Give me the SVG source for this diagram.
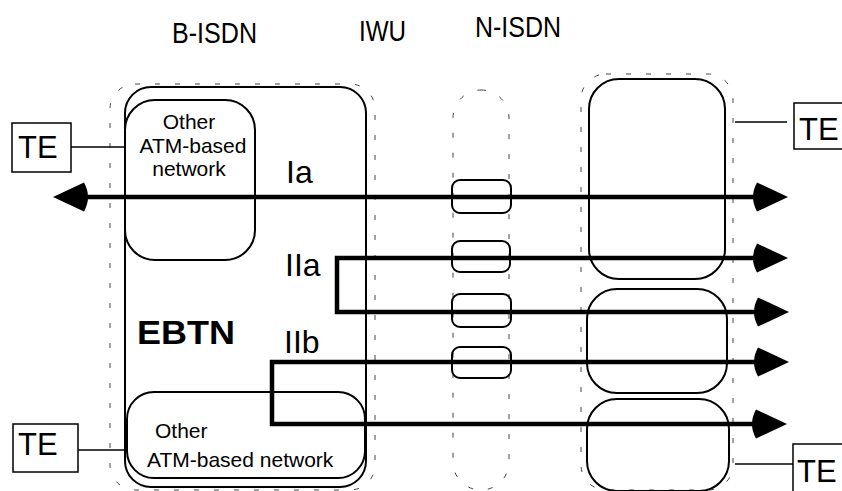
<svg xmlns="http://www.w3.org/2000/svg" width="842" height="491" viewBox="0 0 842 491">
<style>
text{font-family:"Liberation Sans",Arial,sans-serif;fill:#000}
.box{fill:none;stroke:#000;stroke-width:2}
.dash{fill:none;stroke:#444;stroke-width:1;stroke-dasharray:5 15}
.te{fill:#fff;stroke:#000;stroke-width:1.5}
.thin{stroke:#000;stroke-width:1.5;fill:none}
.conn{fill:none;stroke:#000;stroke-width:4.5;stroke-linejoin:miter;marker-start:url(#ah);marker-end:url(#ah)}
.title{font-size:29px}
.lbl{font-size:21px}
.big{font-size:32px}
.te-t{font-size:31px}
</style>
<defs>
<marker id="ah" markerUnits="userSpaceOnUse" markerWidth="40" markerHeight="34" viewBox="-8 -17 40 34" refX="3" refY="0" orient="auto-start-reverse">
<path d="M31,0 L0,-14.5 Q-8,0 0,14.5 Z" fill="#000"/>
</marker>
</defs>
<rect width="842" height="491" fill="#fff"/>

<g id="titles">
<text class="title" x="172" y="43" textLength="85" lengthAdjust="spacingAndGlyphs">B-ISDN</text>
<text class="title" x="359" y="41" textLength="47" lengthAdjust="spacingAndGlyphs">IWU</text>
<text class="title" x="475" y="37" textLength="86" lengthAdjust="spacingAndGlyphs">N-ISDN</text>
</g>

<g id="b-isdn">
<rect class="dash" x="110" y="84" width="265" height="406" rx="25"/>
<rect class="box" x="125" y="87" width="241" height="400" rx="26"/>
<text x="137" y="344" font-size="34" font-weight="bold" textLength="98" lengthAdjust="spacingAndGlyphs">EBTN</text>
</g>

<g id="other-top">
<rect class="box" x="125" y="100" width="130" height="160" rx="30"/>
<text class="lbl" x="189" y="129" text-anchor="middle">Other</text>
<text class="lbl" x="193" y="153" text-anchor="middle">ATM-based</text>
<text class="lbl" x="189" y="176" text-anchor="middle">network</text>
</g>

<g id="other-bottom">
<rect class="box" x="127" y="392" width="238" height="86" rx="27"/>
<text class="lbl" x="155" y="438">Other</text>
<text class="lbl" x="147" y="467">ATM-based network</text>
</g>

<g id="iwu">
<rect class="dash" x="453" y="90" width="56" height="400" rx="28"/>
<rect class="box" x="452" y="180" width="59" height="33" rx="8"/>
<rect class="box" x="452" y="241" width="58" height="31" rx="8"/>
<rect class="box" x="452" y="294" width="59" height="33" rx="8"/>
<rect class="box" x="452" y="347" width="59" height="31" rx="8"/>
</g>

<g id="n-isdn">
<rect class="dash" x="581" y="74" width="152" height="416" rx="25"/>
<rect class="box" x="589" y="79" width="136" height="200" rx="30"/>
<rect class="box" x="587" y="289" width="140" height="104" rx="30"/>
<rect class="box" x="587" y="399" width="142" height="92" rx="30"/>
</g>

<g id="te-top-left">
<rect class="te" x="12" y="123" width="59" height="49"/>
<text class="te-t" x="18" y="158">TE</text>
</g>
<g id="te-bottom-left">
<rect class="te" x="13" y="424" width="65" height="48"/>
<text class="te-t" x="18" y="455">TE</text>
</g>
<g id="te-top-right">
<rect class="te" x="794" y="103" width="60" height="46"/>
<text class="te-t" x="799" y="140">TE</text>
</g>
<g id="te-bottom-right">
<rect class="te" x="793" y="444" width="60" height="60"/>
<text class="te-t" x="797" y="482">TE</text>
</g>

<g id="connectors">
<line class="thin" x1="71" y1="147" x2="125" y2="147"/>
<line class="thin" x1="78" y1="450" x2="125" y2="450"/>
<line class="thin" x1="735" y1="122" x2="787" y2="122"/>
<line class="thin" x1="735" y1="464" x2="793" y2="464"/>
<path class="conn" d="M81,197 H760"/>
<path class="conn" d="M760,258 H337 V312 H761"/>
<path class="conn" d="M761,362 H272 V424 H759"/>
</g>

<g id="labels">
<text class="big" x="286" y="183">Ia</text>
<text class="big" x="285" y="276">IIa</text>
<text class="big" x="284" y="353">IIb</text>
</g>
</svg>
